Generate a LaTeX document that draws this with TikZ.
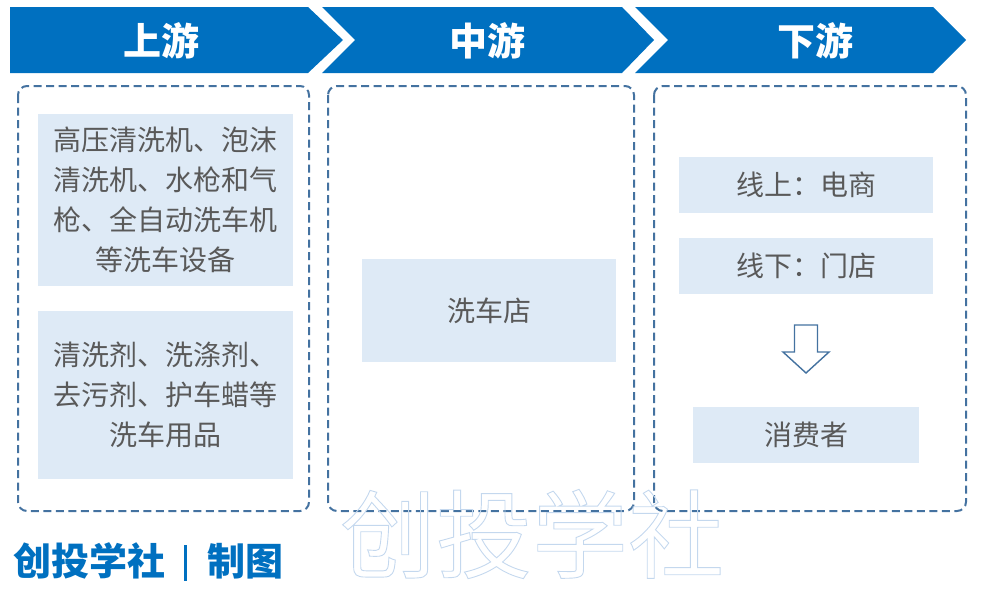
\documentclass[tikz,border=0pt]{standalone}
\usepackage{fontspec}
\newfontfamily\cjk{Noto Sans CJK SC}
\definecolor{headblue}{RGB}{0,112,192}
\definecolor{boxfill}{RGB}{222,234,246}
\definecolor{dashblue}{RGB}{68,114,160}
\definecolor{textgray}{RGB}{89,89,89}
\definecolor{markblue}{RGB}{196,216,238}
\newcommand\outlinemark[1]{\special{pdf:literal direct 1 Tr 0.9 w}#1\special{pdf:literal direct 0 Tr}}
\tikzset{
    headtext/.style={text=white, font=\cjk\bfseries\fontsize{38}{38}\selectfont},
    infobox/.style={fill=boxfill, inner sep=0pt, text=textgray,
        font=\cjk\fontsize{28}{40}\selectfont, align=center},
    groupbox/.style={draw=dashblue, line width=2pt,
        dash pattern=on 8pt off 4.5pt, rounded corners=9pt}
}
\begin{document}
\begin{tikzpicture}[x=1pt,y=-1pt]
    \useasboundingbox (0,0) rectangle (984,592);

    % header chevrons
    \fill[headblue] (10,7) -- (308,7) -- (343,40) -- (308,73) -- (10,73) -- cycle;
    \fill[headblue] (322,7) -- (622,7) -- (654,40) -- (622,73) -- (322,73) -- (355,40) -- cycle;
    \fill[headblue] (635,7) -- (933,7) -- (966,40) -- (933,73) -- (635,73) -- (668,40) -- cycle;
    \node[headtext] (up) at (161,41){上游};
    \node[headtext] (mid) at (487,41){中游};
    \node[headtext] (down) at (815,41){下游};

    % dashed groups
    \draw[groupbox] (18,86) rectangle (309,511);
    \draw[groupbox] (328,86) rectangle (634,511);
    \draw[groupbox] (654,86) rectangle (966,511);

    \node[infobox,
        minimum width=255pt,
        minimum height=172pt
    ] (device) at (165.5,200){高压清洗机、泡沫\\清洗机、水枪和气\\枪、全自动洗车机\\等洗车设备};
    \node[infobox,
        minimum width=255pt,
        minimum height=168pt
    ] (supply) at (165.5,395){清洗剂、洗涤剂、\\去污剂、护车蜡等\\洗车用品};
    \node[infobox,
        minimum width=254pt,
        minimum height=103pt
    ] (shop) at (489,310.5){洗车店};
    \node[infobox,
        minimum width=254pt,
        minimum height=56pt
    ] (online) at (806,185){线上：电商};
    \node[infobox,
        minimum width=254pt,
        minimum height=56pt
    ] (offline) at (806,266){线下：门店};
    \node[infobox,
        minimum width=226pt,
        minimum height=56pt
    ] (buyer) at (806,435){消费者};

    % hollow down arrow
    \draw[dashblue, line width=1.4pt, fill=white, line join=miter]
        (794.5,325) -- (817.5,325) -- (817.5,352) -- (829,352) -- (806,373)
        -- (783,352) -- (794.5,352) -- cycle;

    \node[anchor=west,
        text=headblue,
        font=\cjk\bfseries\fontsize{38}{38}\selectfont
    ] (credit) at (10,562){创投学社\hspace{18pt}\raisebox{-5pt}{\rule{3.5pt}{36pt}}\hspace{20pt}制图};
    \node[text=markblue,
        font=\cjk\fontsize{96}{96}\selectfont
    ] (mark) at (532,534){\outlinemark{创投学社}};
\end{tikzpicture}
\end{document}
